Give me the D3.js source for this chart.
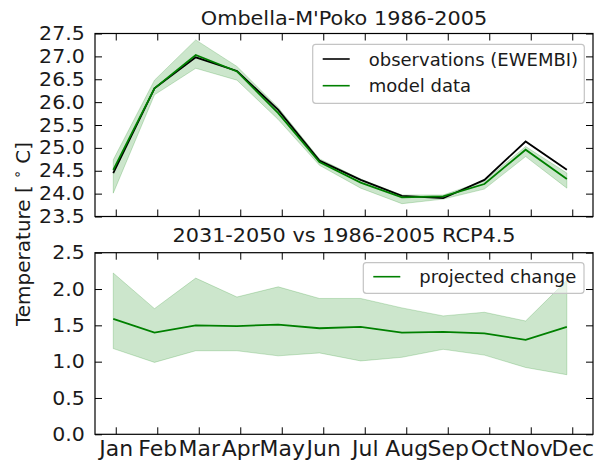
<!DOCTYPE html>
<html>
<head>
<meta charset="utf-8">
<script src="https://cdn.jsdelivr.net/npm/d3@7"></script>
<style>
  html, body { margin: 0; padding: 0; background: #fff; }
  svg { display: block; font-family: "DejaVu Sans", sans-serif; }
</style>
</head>
<body>
<svg id="chart" width="595" height="466"></svg>
<script>
// Monthly climatology, Ombella-M'Poko
const months = ["Jan", "Feb", "Mar", "Apr", "May", "Jun", "Jul", "Aug", "Sep", "Oct", "Nov", "Dec"];
const obsTemp   = [24.45, 26.30, 26.98, 26.68, 25.83, 24.72, 24.30, 23.95, 23.90, 24.30, 25.14, 24.52];
const modelTemp = [24.52, 26.30, 27.03, 26.67, 25.76, 24.69, 24.24, 23.92, 23.94, 24.21, 24.96, 24.32];
const modelLow  = [24.01, 26.16, 26.74, 26.48, 25.62, 24.62, 24.12, 23.78, 23.88, 24.10, 24.81, 24.12];
const modelHigh = [24.74, 26.48, 27.36, 26.78, 25.88, 24.76, 24.32, 23.97, 23.97, 24.28, 25.03, 24.45];

// Projected change 2031-2050 vs 1986-2005, RCP4.5
const changeMean = [1.59, 1.40, 1.50, 1.49, 1.51, 1.46, 1.48, 1.40, 1.41, 1.39, 1.30, 1.48];
const changeLow  = [1.18, 0.99, 1.15, 1.15, 1.08, 1.12, 1.01, 1.06, 1.17, 1.09, 0.92, 0.82];
const changeHigh = [2.22, 1.73, 2.15, 1.89, 2.03, 1.87, 1.87, 1.74, 1.63, 1.68, 1.56, 2.12];

const tempTicks = [23.5, 24.0, 24.5, 25.0, 25.5, 26.0, 26.5, 27.0, 27.5];
const changeTicks = [0.0, 0.5, 1.0, 1.5, 2.0, 2.5];

const svg = d3.select("#chart");
const GREEN = "#008000";
const INK = "#1a1a1a";
const TICK = 7;

const left = 95, right = 593;
const xTick = d3.scaleLinear().domain([-0.5, 11.5]).range([left, right]);
// monthly values sit a little left of the month ticks
const xData = d3.scaleLinear().domain([0, 11]).range([xTick(-0.06), xTick(10.87)]);

const panels = [
  { top: 33.5, bottom: 216.5, domain: [23.5, 27.5], ticks: tempTicks, fmt: d3.format(".1f"),
    title: "Ombella-M'Poko 1986-2005", titleY: 25, labels: false },
  { top: 252.7, bottom: 434.3, domain: [0, 2.5], ticks: changeTicks, fmt: d3.format(".1f"),
    title: "2031-2050 vs 1986-2005 RCP4.5", titleY: 242.3, labels: true }
];

panels.forEach(p => {
  p.y = d3.scaleLinear().domain(p.domain).range([p.bottom, p.top]);
  p.g = svg.append("g");
});

function band(p, lo, hi) {
  return d3.area().x((d, i) => xData(i)).y0((d, i) => p.y(lo[i])).y1((d, i) => p.y(hi[i]))(months);
}
function line(p, vals) {
  return d3.line().x((d, i) => xData(i)).y((d, i) => p.y(vals[i]))(months);
}

// clip paths for each panel
const defs = svg.append("defs");
panels.forEach((p, k) => {
  defs.append("clipPath").attr("id", "clip" + k)
    .append("rect").attr("x", left).attr("y", p.top).attr("width", right - left).attr("height", p.bottom - p.top);
});

// top panel: model spread, observations and model mean
const P0 = panels[0];
const g0 = P0.g.append("g").attr("clip-path", "url(#clip0)");
g0.append("path").attr("d", band(P0, modelLow, modelHigh))
  .attr("fill", GREEN).attr("fill-opacity", 0.2).attr("stroke", GREEN).attr("stroke-opacity", 0.2).attr("stroke-width", 1);
g0.append("path").attr("d", line(P0, obsTemp)).attr("fill", "none").attr("stroke", "#000").attr("stroke-width", 1.8);
g0.append("path").attr("d", line(P0, modelTemp)).attr("fill", "none").attr("stroke", GREEN).attr("stroke-width", 1.8);

// bottom panel: projected change with spread
const P1 = panels[1];
const g1 = P1.g.append("g").attr("clip-path", "url(#clip1)");
g1.append("path").attr("d", band(P1, changeLow, changeHigh))
  .attr("fill", GREEN).attr("fill-opacity", 0.2).attr("stroke", GREEN).attr("stroke-opacity", 0.2).attr("stroke-width", 1);
g1.append("path").attr("d", line(P1, changeMean)).attr("fill", "none").attr("stroke", GREEN).attr("stroke-width", 1.8);

// axes, frames and titles
panels.forEach(p => {
  const g = p.g;
  const yl = g.append("g").attr("transform", `translate(${left},0)`)
    .call(d3.axisLeft(p.y).tickValues(p.ticks).tickFormat(p.fmt).tickSizeInner(-TICK).tickSizeOuter(0).tickPadding(9.5));
  const yr = g.append("g").attr("transform", `translate(${right},0)`)
    .call(d3.axisRight(p.y).tickValues(p.ticks).tickFormat("").tickSizeInner(-TICK).tickSizeOuter(0));
  const xt = g.append("g").attr("transform", `translate(0,${p.top})`)
    .call(d3.axisTop(xTick).tickValues(d3.range(12)).tickFormat("").tickSizeInner(-TICK).tickSizeOuter(0));
  const xb = g.append("g").attr("transform", `translate(0,${p.bottom})`)
    .call(d3.axisBottom(xTick).tickValues(d3.range(12)).tickFormat(p.labels ? (i => months[i]) : "")
      .tickSizeInner(-TICK).tickSizeOuter(0).tickPadding(7.5));
  [yl, yr, xt, xb].forEach(a => {
    a.select(".domain").remove();
    a.selectAll(".tick line").attr("stroke", "#000").attr("stroke-width", 1);
    a.selectAll("text").attr("fill", INK).attr("font-family", "DejaVu Sans");
  });
  yl.selectAll("text").attr("font-size", 19).attr("transform", "scale(1.08,1)");
  xb.selectAll("text").attr("font-size", 20.5).attr("transform", "scale(1.07,1)");

  g.append("rect").attr("x", left).attr("y", p.top).attr("width", right - left).attr("height", p.bottom - p.top)
    .attr("fill", "none").attr("stroke", "#000").attr("stroke-width", 1.2);

  g.append("text").attr("x", 0).attr("y", 0)
    .attr("transform", `translate(${(left + right) / 2},${p.titleY}) scale(1.04,1)`)
    .attr("text-anchor", "middle").attr("font-size", 20).attr("fill", INK).text(p.title);
});

// y-axis label shared by both panels
const ylab = svg.append("text")
  .attr("transform", `translate(30,234) rotate(-90)`)
  .attr("text-anchor", "middle").attr("font-size", 20).attr("fill", INK);
ylab.append("tspan").text("Temperature [ ");
ylab.append("tspan").attr("font-size", 14).attr("dy", -8).text("∘");
ylab.append("tspan").attr("dy", 8).text(" C]");

// legends
function legend(x0, y0, w, h, items) {
  const g = svg.append("g");
  g.append("rect").attr("x", x0).attr("y", y0).attr("width", w).attr("height", h).attr("rx", 3)
    .attr("fill", "#fff").attr("fill-opacity", 0.55).attr("stroke", "#c4c4c4").attr("stroke-width", 1.2);
  items.forEach(it => {
    g.append("line").attr("x1", x0 + 10).attr("x2", x0 + 37).attr("y1", it.y).attr("y2", it.y)
      .attr("stroke", it.color).attr("stroke-width", 1.6);
    g.append("text").attr("transform", `translate(${x0 + 56},${it.y + 6.5}) scale(1.03,1)`)
      .attr("font-size", 17.5).attr("fill", INK).text(it.label);
  });
}
legend(312.7, 44.3, 271.6, 59, [
  { label: "observations (EWEMBI)", color: "#000", y: 59 },
  { label: "model data", color: GREEN, y: 85.7 }
]);
legend(363.3, 262.7, 220.7, 30.6, [
  { label: "projected change", color: GREEN, y: 276.7 }
]);
</script>
</body>
</html>
